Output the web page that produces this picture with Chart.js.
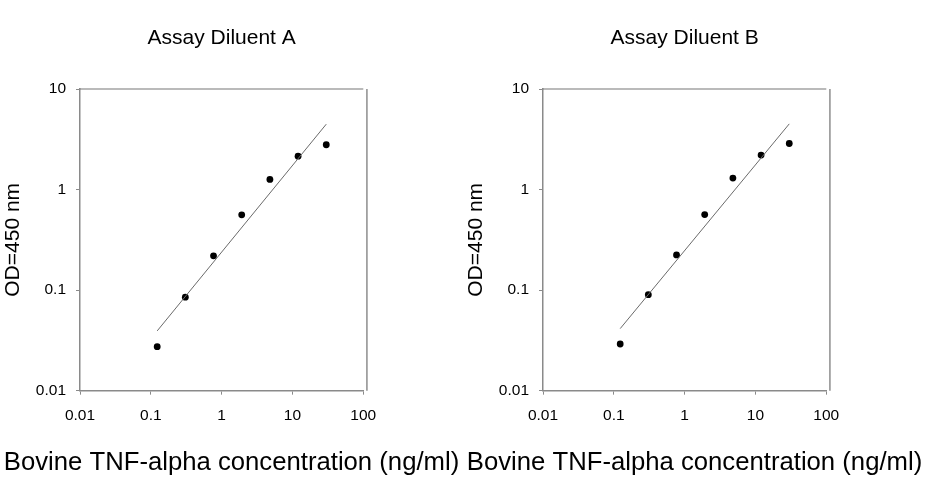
<!DOCTYPE html>
<html>
<head>
<meta charset="utf-8">
<script src="https://cdn.jsdelivr.net/npm/chart.js@4.4.0/dist/chart.umd.min.js"></script>
<style>
  html, body { margin: 0; padding: 0; background: #ffffff; }
  #wrap { position: relative; width: 926px; height: 480px; }
  .box { position: absolute; top: 0; width: 463px; height: 480px; }
  #boxA { left: 0; }
  #boxB { left: 463px; }
</style>
</head>
<body>
<div id="wrap">
  <div class="box" id="boxA"><canvas id="chartA"></canvas></div>
  <div class="box" id="boxB"><canvas id="chartB"></canvas></div>
</div>
<script>
// ---- data ----
const titleA = "Assay Diluent A";
const titleB = "Assay Diluent B";
const xAxisTitle = "Bovine TNF-alpha concentration (ng/ml)";
const yAxisTitle = "OD=450 nm";

const concentrations = [0.123, 0.307, 0.768, 1.92, 4.8, 12, 30];
const odA = [0.0274, 0.085, 0.219, 0.56, 1.26, 2.15, 2.79];
const odB = [0.0291, 0.090, 0.224, 0.564, 1.30, 2.20, 2.87];

const fitX = [0.123, 30];
const fitA = [0.0393, 4.47];
const fitB = [0.0414, 4.50];

const xTicks = [0.01, 0.1, 1, 10, 100];
const yTicks = [0.01, 0.1, 1, 10];

// ---- styling ----
const FONT = "'Liberation Sans', Arial, sans-serif";
const AXIS_COLOR = '#8a8a8a';

const frameDecor = {
  id: 'frameDecor',
  afterDraw(chart) {
    const a = chart.chartArea;
    const ctx = chart.ctx;
    ctx.save();
    ctx.strokeStyle = '#777777';
    ctx.lineWidth = 1.2;
    ctx.beginPath();
    ctx.moveTo(a.left, a.top);
    ctx.lineTo(a.right, a.top);
    ctx.stroke();
    ctx.strokeStyle = '#a0a0a0';
    ctx.lineWidth = 1.8;
    ctx.beginPath();
    ctx.moveTo(a.right + 3.6, a.top);
    ctx.lineTo(a.right + 3.6, a.bottom);
    ctx.stroke();
    ctx.restore();
  }
};

function makeChart(id, title, od, fit) {
  const pts = concentrations.map((c, i) => ({ x: c, y: od[i] }));
  const line = fitX.map((c, i) => ({ x: c, y: fit[i] }));
  return new Chart(document.getElementById(id), {
    type: 'scatter',
    data: {
      datasets: [
        {
          type: 'line',
          data: line,
          borderColor: '#6a6a6a',
          borderWidth: 1,
          pointRadius: 0,
          fill: false
        },
        {
          data: pts,
          backgroundColor: '#000000',
          borderColor: '#000000',
          pointRadius: 3.4,
          pointBorderWidth: 0,
          showLine: false
        }
      ]
    },
    options: {
      responsive: true,
      maintainAspectRatio: false,
      animation: false,
      events: [],
      layout: { padding: 0 },
      plugins: {
        legend: { display: false },
        tooltip: { enabled: false },
        title: {
          display: true,
          text: title,
          fullSize: false,
          color: '#000000',
          font: { family: FONT, size: 21, weight: 'normal', lineHeight: 1.2 },
          padding: { top: 25.5, bottom: 38.3 }
        },
        subtitle: {
          display: true,
          text: xAxisTitle,
          position: 'bottom',
          fullSize: true,
          color: '#000000',
          font: { family: FONT, size: 25.7, weight: 'normal', lineHeight: 1.2 },
          padding: { top: 11.5, bottom: 2 }
        }
      },
      scales: {
        x: {
          type: 'logarithmic',
          position: 'bottom',
          min: 0.01,
          max: 100,
          afterBuildTicks: (s) => { s.ticks = xTicks.map(v => ({ value: v })); },
          afterFit: (s) => { s.height = 45; },
          ticks: {
            autoSkip: false,
            maxRotation: 0,
            color: '#000000',
            font: { family: FONT, size: 15.5 },
            padding: 11.5,
            callback: (v) => String(v)
          },
          grid: { display: true, drawOnChartArea: false, drawTicks: true, tickLength: 4, color: AXIS_COLOR, lineWidth: 1 },
          border: { display: true, color: AXIS_COLOR, width: 1.5 }
        },
        y: {
          type: 'logarithmic',
          position: 'left',
          min: 0.01,
          max: 10,
          afterBuildTicks: (s) => { s.ticks = yTicks.map(v => ({ value: v })); },
          afterFit: (s) => { s.width = 80; },
          ticks: {
            autoSkip: false,
            color: '#000000',
            font: { family: FONT, size: 15.5 },
            padding: 10,
            callback: (v) => String(v)
          },
          title: {
            display: true,
            text: yAxisTitle,
            color: '#000000',
            font: { family: FONT, size: 21, weight: 'normal', lineHeight: 1.2 },
            padding: { top: 0.6, bottom: 0 }
          },
          grid: { display: true, drawOnChartArea: false, drawTicks: true, tickLength: 4, color: AXIS_COLOR, lineWidth: 1 },
          border: { display: true, color: AXIS_COLOR, width: 1.5 }
        },
        rightSpace: {
          type: 'linear',
          position: 'right',
          display: true,
          afterFit: (s) => { s.width = 99.7; },
          ticks: { display: false },
          grid: { display: false },
          border: { display: false }
        }
      }
    },
    plugins: [frameDecor]
  });
}

makeChart('chartA', titleA, odA, fitA);
makeChart('chartB', titleB, odB, fitB);
</script>
</body>
</html>
